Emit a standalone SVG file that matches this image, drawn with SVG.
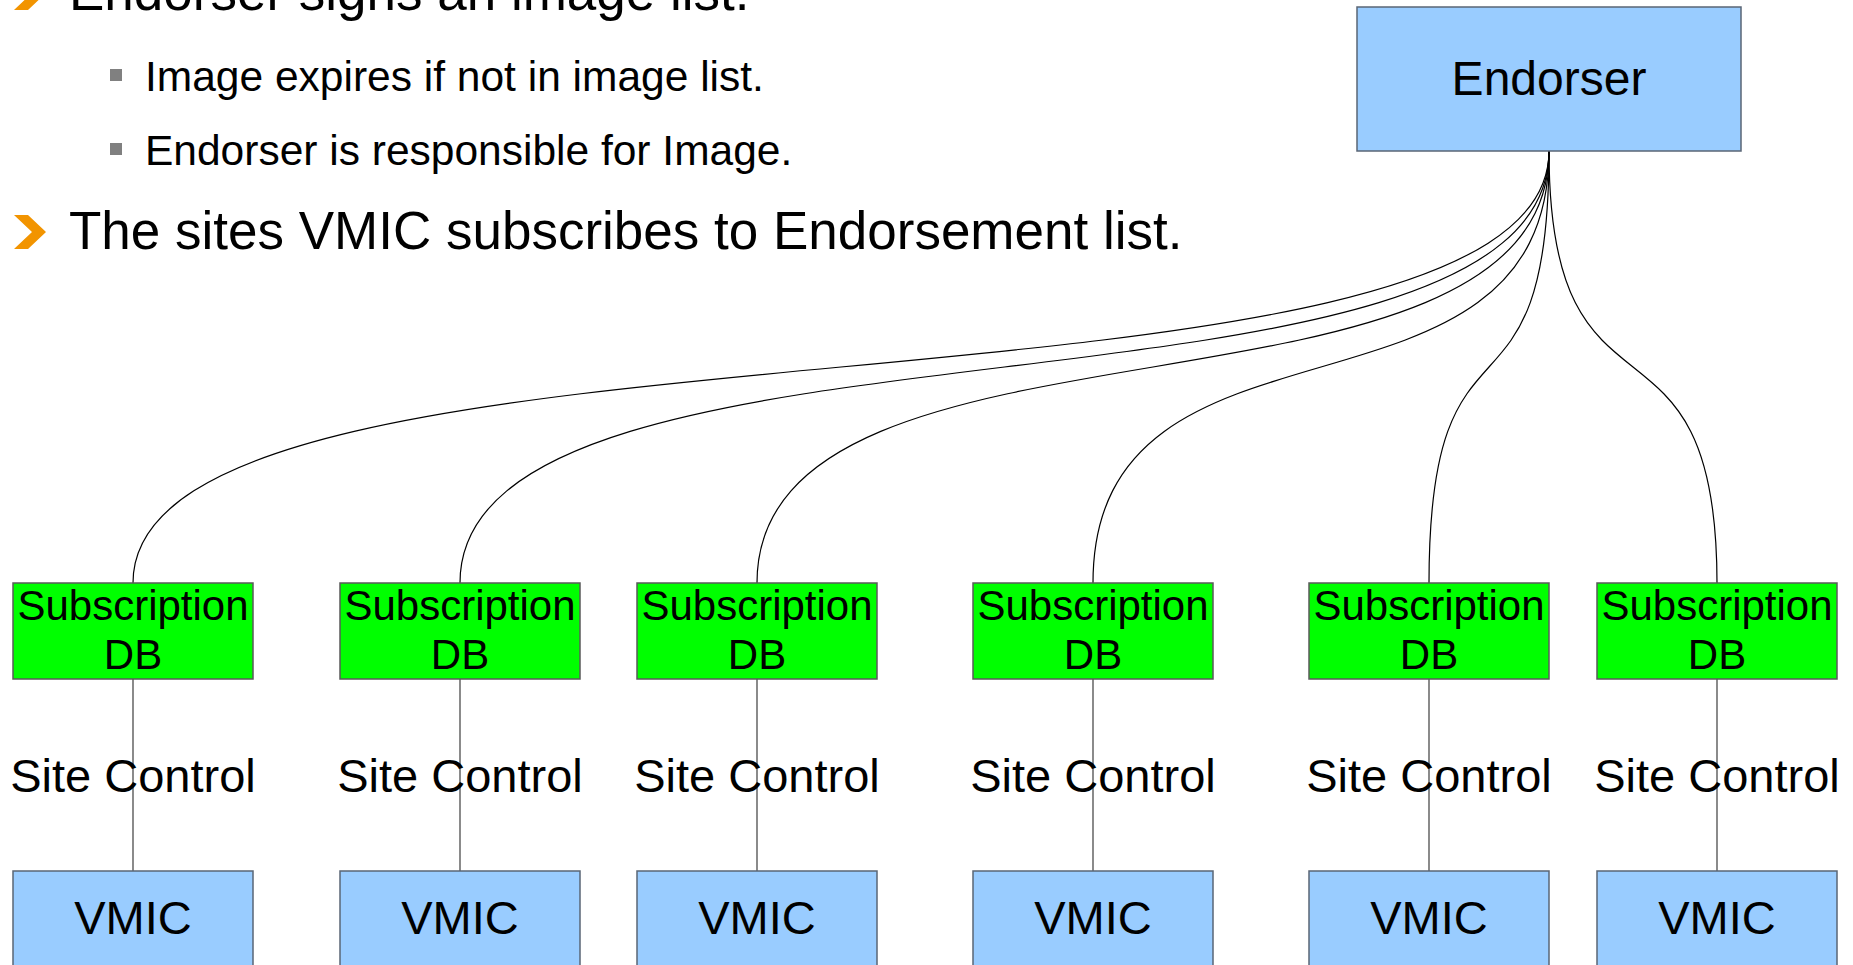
<svg xmlns="http://www.w3.org/2000/svg" width="1853" height="965" viewBox="0 0 1853 965">
<style>
text{font-family:"Liberation Sans",Arial,sans-serif;fill:#000}
.blue{fill:#99ccff;stroke:#5a6676;stroke-width:1.5}
.green{fill:#00ff00;stroke:#5a5a5a;stroke-width:1.5}
.curve{fill:none;stroke:#000;stroke-width:1.2}
.vline{fill:none;stroke:#6e6e6e;stroke-width:1.6}
.chev{fill:#f29400}
.sq{fill:#808080}
.h1{font-size:53px}
.h2{font-size:42.5px}
.lbl{font-size:47px;text-anchor:middle}
.db{font-size:42px;text-anchor:middle}
</style>
<rect width="1853" height="965" fill="#ffffff"/>
<g id="bullets">
<polygon class="chev" points="14,-24 28,-24 46,-7 28,10 14,10 32,-7"/>
<text class="h1" x="69" y="10">Endorser signs an image list.</text>
<rect class="sq" x="110" y="69" width="12" height="12"/>
<text class="h2" x="145" y="91">Image expires if not in image list.</text>
<rect class="sq" x="110" y="143" width="12" height="12"/>
<text class="h2" x="145" y="165">Endorser is responsible for Image.</text>
<polygon class="chev" points="14,215 28,215 46,232 28,249 14,249 32,232"/>
<text class="h1" x="69" y="249">The sites VMIC subscribes to Endorsement list.</text>
</g>
<g id="connectors">
<path class="curve" d="M1549,151 C1549,450 133,284 133,583"/>
<path class="curve" d="M1549,151 C1549,450 460,284 460,583"/>
<path class="curve" d="M1549,151 C1549,450 757,284 757,583"/>
<path class="curve" d="M1549,151 C1549,450 1093,284 1093,583"/>
<path class="curve" d="M1549,151 C1549,450 1429,284 1429,583"/>
<path class="curve" d="M1549,151 C1549,450 1717,284 1717,583"/>
<path class="vline" d="M133,679 V871 M460,679 V871 M757,679 V871 M1093,679 V871 M1429,679 V871 M1717,679 V871"/>
</g>
<g id="endorser">
<rect class="blue" x="1357" y="7" width="384" height="144"/>
<text class="lbl" x="1549" y="95" style="font-size:48px">Endorser</text>
</g>
<g id="db1"><rect class="green" x="13" y="583" width="240" height="96"/><text class="db" x="133" y="620">Subscription</text><text class="db" x="133" y="669">DB</text></g>
<g id="db2"><rect class="green" x="340" y="583" width="240" height="96"/><text class="db" x="460" y="620">Subscription</text><text class="db" x="460" y="669">DB</text></g>
<g id="db3"><rect class="green" x="637" y="583" width="240" height="96"/><text class="db" x="757" y="620">Subscription</text><text class="db" x="757" y="669">DB</text></g>
<g id="db4"><rect class="green" x="973" y="583" width="240" height="96"/><text class="db" x="1093" y="620">Subscription</text><text class="db" x="1093" y="669">DB</text></g>
<g id="db5"><rect class="green" x="1309" y="583" width="240" height="96"/><text class="db" x="1429" y="620">Subscription</text><text class="db" x="1429" y="669">DB</text></g>
<g id="db6"><rect class="green" x="1597" y="583" width="240" height="96"/><text class="db" x="1717" y="620">Subscription</text><text class="db" x="1717" y="669">DB</text></g>
<g id="sitecontrol">
<text class="lbl" x="133" y="792">Site Control</text>
<text class="lbl" x="460" y="792">Site Control</text>
<text class="lbl" x="757" y="792">Site Control</text>
<text class="lbl" x="1093" y="792">Site Control</text>
<text class="lbl" x="1429" y="792">Site Control</text>
<text class="lbl" x="1717" y="792">Site Control</text>
</g>
<g id="vmic1"><rect class="blue" x="13" y="871" width="240" height="120"/><text class="lbl" x="133" y="934">VMIC</text></g>
<g id="vmic2"><rect class="blue" x="340" y="871" width="240" height="120"/><text class="lbl" x="460" y="934">VMIC</text></g>
<g id="vmic3"><rect class="blue" x="637" y="871" width="240" height="120"/><text class="lbl" x="757" y="934">VMIC</text></g>
<g id="vmic4"><rect class="blue" x="973" y="871" width="240" height="120"/><text class="lbl" x="1093" y="934">VMIC</text></g>
<g id="vmic5"><rect class="blue" x="1309" y="871" width="240" height="120"/><text class="lbl" x="1429" y="934">VMIC</text></g>
<g id="vmic6"><rect class="blue" x="1597" y="871" width="240" height="120"/><text class="lbl" x="1717" y="934">VMIC</text></g>
</svg>
